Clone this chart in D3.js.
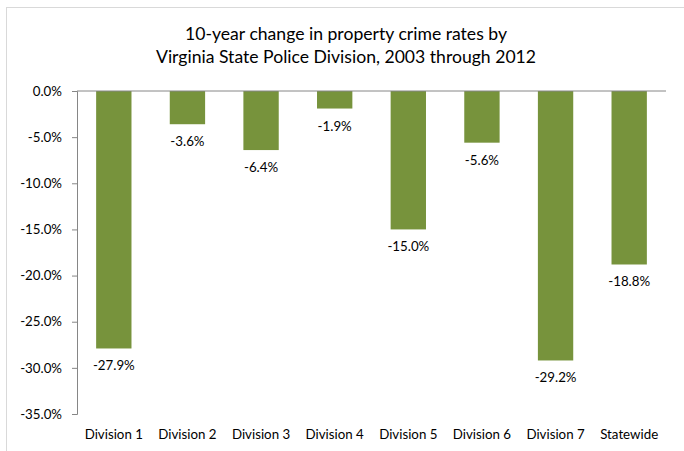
<!DOCTYPE html>
<html>
<head>
<meta charset="utf-8">
<script src="https://cdn.jsdelivr.net/npm/d3@7"></script>
<style>
  body { margin: 0; background: #fff; }
  svg { display: block; font-family: Lato, "Open Sans", sans-serif; }
</style>
</head>
<body>
<svg width="684" height="451"></svg>
<script>
// data
const divisions = ["Division 1", "Division 2", "Division 3", "Division 4",
                   "Division 5", "Division 6", "Division 7", "Statewide"];
const changes = [-27.9, -3.6, -6.4, -1.9, -15.0, -5.6, -29.2, -18.8];
const yTicks = [0, -5, -10, -15, -20, -25, -30, -35];
const titleLines = ["10-year change in property crime rates by",
                    "Virginia State Police Division, 2003 through 2012"];

const data = divisions.map((d, i) => ({division: d, change: changes[i]}));

const width = 684, height = 451;
const margin = {top: 91, right: 18, bottom: 37, left: 77};
const plotWidth = width - margin.left - margin.right;
const plotHeight = height - margin.top - margin.bottom;

const svg = d3.select("svg");

// chart area border
svg.append("rect")
  .attr("x", 6.5).attr("y", 7.5)
  .attr("width", 683).attr("height", 450)
  .attr("fill", "none")
  .attr("stroke", "#d9d9d9");

// title
svg.append("text")
  .attr("text-anchor", "middle")
  .attr("font-size", "17.6px")
  .attr("fill", "#000")
  .selectAll("tspan").data(titleLines)
  .enter().append("tspan")
    .attr("x", 346)
    .attr("y", (d, i) => 40 + i * 22.5)
    .text(d => d);

const g = svg.append("g")
  .attr("transform", `translate(${margin.left}, ${margin.top})`);

const x = d3.scaleBand()
  .domain(divisions)
  .range([0, plotWidth])
  .paddingInner(0.52)
  .paddingOuter(0.26);

const y = d3.scaleLinear()
  .domain([0, -35])
  .range([0, plotHeight]);

// bars
g.selectAll("rect.bar").data(data)
  .enter().append("rect")
  .attr("class", "bar")
  .attr("x", d => x(d.division))
  .attr("y", y(0))
  .attr("width", x.bandwidth())
  .attr("height", d => y(d.change) - y(0))
  .attr("fill", "#77933c");

// value labels
g.selectAll("text.val").data(data)
  .enter().append("text")
  .attr("class", "val")
  .attr("x", d => x(d.division) + x.bandwidth() / 2)
  .attr("y", d => y(d.change) + 22)
  .attr("text-anchor", "middle")
  .attr("font-size", "13.3px")
  .attr("fill", "#000")
  .text(d => d.change.toFixed(1) + "%");

// y axis
const yAxis = d3.axisLeft(y)
  .tickValues(yTicks)
  .tickSize(5)
  .tickPadding(10)
  .tickFormat(d => d.toFixed(1) + "%");
const ya = g.append("g").call(yAxis);
ya.select(".domain").attr("stroke", "#868686").attr("d", `M-5,0.5H0.5V${plotHeight + 0.5}H-5`);
ya.selectAll(".tick line").attr("stroke", "#868686");
ya.selectAll(".tick text").attr("font-size", "13.3px").attr("fill", "#000")
  .attr("font-family", "Lato, 'Open Sans', sans-serif");

// zero line
g.append("line")
  .attr("x1", 0).attr("x2", plotWidth)
  .attr("y1", y(0)).attr("y2", y(0))
  .attr("stroke", "#868686");

// category labels
g.selectAll("text.cat").data(divisions)
  .enter().append("text")
  .attr("class", "cat")
  .attr("x", d => x(d) + x.bandwidth() / 2)
  .attr("y", plotHeight + 25)
  .attr("text-anchor", "middle")
  .attr("font-size", "13.3px")
  .attr("fill", "#000")
  .text(d => d);
</script>
</body>
</html>
